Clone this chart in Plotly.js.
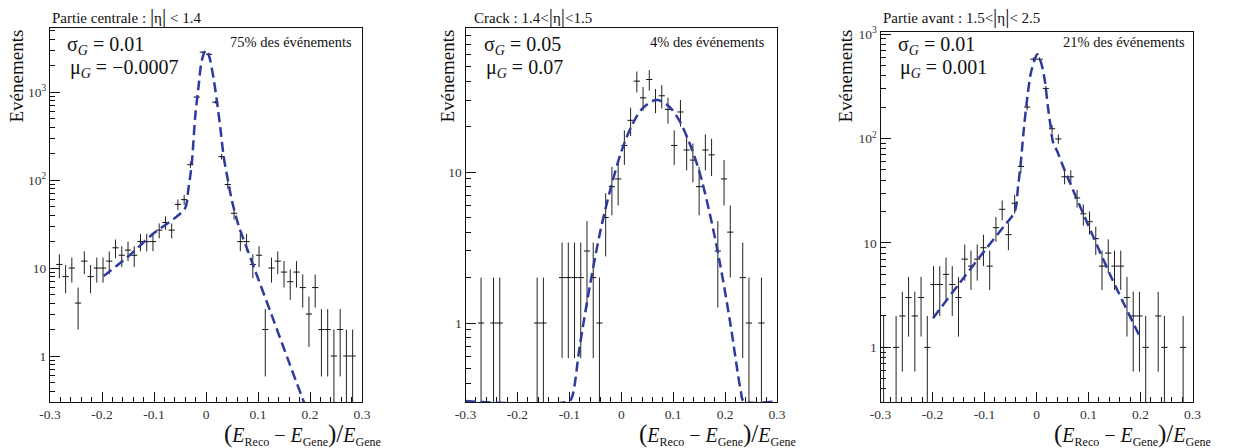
<!DOCTYPE html>
<html>
<head>
<meta charset="utf-8">
<script src="https://cdn.plot.ly/plotly-3.0.1.min.js"></script>
<style>html,body{margin:0;padding:0;background:#fff}#chart{width:1236px;height:448px}</style>
</head>
<body>
<div id="chart"></div>
<script>
// ---------- data ----------
const binCenters = [-0.294,-0.282,-0.270,-0.258,-0.246,-0.234,-0.222,-0.210,-0.198,-0.186,
  -0.174,-0.162,-0.150,-0.138,-0.126,-0.114,-0.102,-0.090,-0.078,-0.066,
  -0.054,-0.042,-0.030,-0.018,-0.006,0.006,0.018,0.030,0.042,0.054,
  0.066,0.078,0.090,0.102,0.114,0.126,0.138,0.150,0.162,0.174,
  0.186,0.198,0.210,0.222,0.234,0.246,0.258,0.270,0.282,0.294];
const binHalfWidth = 0.006;

const countsCentral = [0,11,8,10,4,12,8,10,10,12,
  17,14,16,14,20,20,20,27,33,27,
  53,60,150,880,2850,2700,770,185,89,42,
  20,20,11,14,2,10,12,9,7,9,
  6,3,6,2,2,1,2,1,1,0];
const countsCrack = [0,0,1,0,1,1,0,0,0,0,
  0,1,1,0,0,2,2,2,2,3,
  2,1,5,8,9,15,22,40,31,41,
  30,32,26,15,25,14,12,8,14,13,
  3,9,4,0,2,1,0,1,0,0];
const countsForward = [1,0,1,2,3,2,3,1,4,4,
  5,4,3,7,6,7,9,6,14,21,
  12,24,54,200,575,575,302,124,99,43,
  43,27,19,16,11,6,8,6,6,3,
  2,2,1,0,2,1,0,0,1,0];

const fitCentralX = [-0.197,-0.15,-0.1,-0.06,-0.04,-0.034,-0.0273,-0.0208,-0.0144,-0.008,-0.0007,
  0.0054,0.015,0.0215,0.028,0.034,0.0408,0.05,0.063,0.079,0.095,0.127,0.159,0.19];
const fitCentralY = [8.1,13.5,25,37,48,78,156,525,1150,2300,3000,
  2630,1370,750,373,185,110,58,30,16.6,9.2,2.84,0.87,0.28];

const fitCrackX = [-0.3,-0.1,-0.094,-0.08,-0.06,-0.04,-0.02,0,0.02,0.04,0.068,
  0.09,0.11,0.13,0.15,0.17,0.19,0.21,0.23,0.236,0.3];
const fitCrackY = [0.304,0.304,0.33,0.7,1.8,4.1,7.9,13.6,20.2,26.2,30,
  27.6,22.5,16,10.2,5.4,2.5,1.0,0.36,0.304,0.304];

const fitForwardX = [-0.199,-0.15,-0.1,-0.06,-0.042,-0.0356,-0.0304,-0.0246,-0.0183,-0.011,-0.0035,
  0.0015,0.0092,0.0158,0.022,0.0273,0.0317,0.04,0.054,0.0927,0.1438,0.197];
const fitForwardY = [1.9,4.0,8.4,15,19.8,34,57.6,120,233,420,567,
  640,525,363,201,129,93,75,50,17.7,4.7,1.32];

const panelTitles = [
  "Partie centrale : <span style='font-size:21px'>|</span>η<span style='font-size:21px'>|</span> < 1.4",
  "Crack : 1.4<<span style='font-size:21px'>|</span>η<span style='font-size:21px'>|</span><1.5",
  "Partie avant : 1.5<<span style='font-size:21px'>|</span>η<span style='font-size:21px'>|</span>< 2.5"
];
const sigmaValues = ["0.01","0.05","0.01"];
const muValues = ["\u22120.0007","0.07","0.001"];
const fractionLabels = ["75% des événements","4% des événements","21% des événements"];
const yTitle = "Evénements";
const xTitle = "<span style='font-size:25px'>(</span><i>E</i><sub><span style='font-size:12px'>Reco</span></sub> − <i>E</i><sub><span style='font-size:12px'>Gene</span></sub><span style='font-size:25px'>)/</span><i>E</i><sub><span style='font-size:12px'>Gene</span></sub>";

const xTickVals = [-0.3,-0.2,-0.1,0,0.1,0.2,0.3];
const xTickText = ["-0.3","-0.2","-0.1","0","0.1","0.2","0.3"];
const yTickVals = [1,10,100,1000];
const yTickText = ["1","10","10<sup>2</sup>","10<sup>3</sup>"];
const yMinorVals = [0.4,0.5,0.6,0.7,0.8,0.9,2,3,4,5,6,7,8,9,20,30,40,50,60,70,80,90,
  200,300,400,500,600,700,800,900,2000,3000,4000,5000];

// ---------- layout geometry (pixels) ----------
const W = 1236, H = 448;
const FONT = "Liberation Serif";
const CURVE = "#2c3b9c";
const panels = [
  {x0:50,  x1:362,   top:28, yr:[-0.523,3.73],  counts:countsCentral, fx:fitCentralX, fy:fitCentralY,
   titleX:50, sigX:65, muX:68, fracX:354, yTitleX:16, xTitleX:383},
  {x0:465.5, x1:777, top:28, yr:[-0.523,1.954], counts:countsCrack, fx:fitCrackX, fy:fitCrackY,
   titleX:471.5, sigX:482, muX:484, fracX:766.5, yTitleX:447, xTitleX:798},
  {x0:880.5, x1:1192.5, top:32, yr:[-0.523,3.02], counts:countsForward, fx:fitForwardX, fy:fitForwardY,
   titleX:880.5, sigX:895.5, muX:898, fracX:1186.5, yTitleX:845, xTitleX:1212.5}
];
const BOTTOM = 402;
const px = v => v / W;
const py = v => 1 - v / H;

const traces = [];
const layout = {
  width: W, height: H,
  margin: {l:0, r:0, t:0, b:0, pad:0},
  paper_bgcolor: "#fff", plot_bgcolor: "#fff",
  showlegend: false,
  font: {family: FONT, color: "#111"},
  annotations: []
};

function ann(text, x, y, size, xanchor, yanchor, extra) {
  return Object.assign({text, x:px(x), y:py(y), xref:"paper", yref:"paper",
    xanchor, yanchor, showarrow:false, font:{family:FONT, size, color:"#111"}}, extra || {});
}

panels.forEach((p, k) => {
  const n = k === 0 ? "" : String(k + 1);
  const xa = "x" + n, ya = "y" + n;
  const hx = [], hy = [], he = [];
  p.counts.forEach((c, i) => { if (c > 0) { hx.push(binCenters[i]); hy.push(c); he.push(Math.sqrt(c)); } });
  traces.push({
    type:"scatter", mode:"markers", x:hx, y:hy, xaxis:xa, yaxis:ya,
    marker:{size:1, color:"rgba(0,0,0,0)"},
    error_x:{type:"constant", value:binHalfWidth, width:0, thickness:1, color:"#111"},
    error_y:{type:"data", array:he, width:0, thickness:1, color:"#222"},
    hoverinfo:"skip"
  });
  traces.push({
    type:"scatter", mode:"lines", x:p.fx, y:p.fy, xaxis:xa, yaxis:ya,
    line:{color:CURVE, width:2.5, dash:"10px,5px", shape:"spline", smoothing:0.9},
    hoverinfo:"skip"
  });
  layout["xaxis" + n] = {
    domain:[px(p.x0), px(p.x1)], anchor:ya, range:[-0.3,0.3], layer:"below traces",
    tickmode:"array", tickvals:xTickVals, ticktext:xTickText,
    ticks:"inside", ticklen:10, tickwidth:1, tickcolor:"#111",
    minor:{tickmode:"linear", tick0:0, dtick:0.02, ticks:"inside", ticklen:5, tickwidth:1, tickcolor:"#111"},
    showline:true, linecolor:"#111", linewidth:1, mirror:true,
    showgrid:false, zeroline:false, fixedrange:true,
    tickfont:{family:FONT, size:13.5, color:"#333"}
  };
  layout["yaxis" + n] = {
    domain:[py(BOTTOM), py(p.top)], anchor:xa, type:"log", range:p.yr, layer:"below traces",
    tickmode:"array", tickvals:yTickVals, ticktext:yTickText,
    ticks:"inside", ticklen:10, tickwidth:1, tickcolor:"#111",
    minor:{tickmode:"array", tickvals:yMinorVals, ticks:"inside", ticklen:5, tickwidth:1, tickcolor:"#111"},
    showline:true, linecolor:"#111", linewidth:1, mirror:true,
    showgrid:false, zeroline:false, fixedrange:true,
    tickfont:{family:FONT, size:13.5, color:"#333"}
  };
  layout.annotations.push(ann(panelTitles[k], p.titleX, 16, 15, "left", "middle"));
  layout.annotations.push(ann("σ<sub><i>G</i></sub> = " + sigmaValues[k], p.sigX, 46, 20, "left", "middle"));
  layout.annotations.push(ann("μ<sub><i>G</i></sub> = " + muValues[k], p.muX, 68, 20, "left", "middle"));
  layout.annotations.push(ann(fractionLabels[k], p.fracX, 42, 14.5, "right", "middle"));
  layout.annotations.push(ann(yTitle, p.yTitleX, 76.5, 19, "center", "middle", {textangle:-90}));
  layout.annotations.push(ann(xTitle, p.xTitleX, 434, 20, "right", "middle"));
});

Plotly.newPlot("chart", traces, layout, {staticPlot:true, displayModeBar:false});
</script>
</body>
</html>
